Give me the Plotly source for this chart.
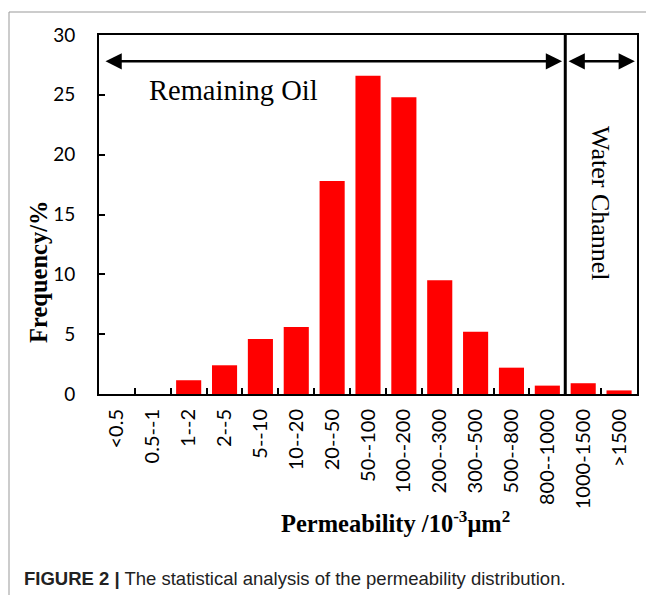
import plotly.graph_objects as go

categories = ["<0.5", "0.5--1", "1--2", "2--5", "5--10", "10--20", "20--50", "50--100",
              "100--200", "200--300", "300--500", "500--800", "800--1000", "1000-1500", ">1500"]
frequency = [0, 0, 1.15, 2.4, 4.6, 5.6, 17.8, 26.6, 24.8, 9.5, 5.2, 2.2, 0.7, 0.9, 0.3]
y_ticks = [0, 5, 10, 15, 20, 25, 30]

# page body has an 8px margin, so the figure is offset by 8px
OFF = 8
W, H = 654 - OFF, 595 - OFF
X0, X1, Y0, Y1 = 99, 637, 35, 394  # plot area in screen pixels
L, T = X0 - OFF, Y0 - OFF
R, B = (W + OFF) - X1 - OFF, (H + OFF) - Y1 - OFF
PW, PH = X1 - X0, Y1 - Y0

def px(x):
    return (x - X0) / PW

def py(y):
    return (Y1 - y) / PH

fig = go.Figure()
fig.add_trace(go.Bar(x=categories, y=frequency, marker=dict(color="#FF0000", line=dict(width=0))))

fig.update_layout(
    width=W, height=H,
    margin=dict(l=L, r=R + OFF, t=T, b=B + OFF, autoexpand=False),
    plot_bgcolor="white", paper_bgcolor="white",
    bargap=0.3, showlegend=False,
)
fig.update_xaxes(
    type="category", range=[-0.5, 14.5],
    showline=True, linecolor="black", linewidth=2, mirror=True,
    ticks="inside", ticklen=6, tickwidth=1.5, tickcolor="black", tickson="boundaries",
    tickangle=-90, tickfont=dict(family="Lato, Open Sans, sans-serif", size=20, color="black"),
    ticklabelstandoff=5, showgrid=False,
)
fig.update_yaxes(
    range=[0, 30], tickvals=y_ticks,
    showline=True, linecolor="black", linewidth=2, mirror=True,
    ticks="inside", ticklen=6, tickwidth=1.5, tickcolor="black",
    tickfont=dict(family="Lato, Open Sans, sans-serif", size=19, color="black"),
    ticklabelstandoff=18, showgrid=False, zeroline=False,
)

# divider between remaining oil and water channel
fig.add_shape(type="line", xref="x", yref="y", x0=12.5, x1=12.5, y0=0, y1=30,
              line=dict(color="black", width=3))

# double arrows
for x0, x1 in [(-0.36, 12.41), (12.55, 14.44)]:
    fig.add_annotation(x=x1, y=27.8, ax=x0, ay=27.8, xref="x", yref="y", axref="x", ayref="y",
                       text="", showarrow=True, arrowside="end+start", arrowhead=2,
                       arrowsize=1.3, arrowwidth=2.5, arrowcolor="black", startarrowhead=2,
                       startarrowsize=1.3)

def label(x, y, text, size, family, angle=0, anchor="center", color="black"):
    fig.add_annotation(x=px(x), y=py(y), xref="paper", yref="paper", text=text,
                       showarrow=False, textangle=angle, xanchor=anchor, yanchor="middle",
                       font=dict(family=family, size=size, color=color))

serif = "Liberation Serif, Times New Roman, serif"
label(233, 90, "Remaining Oil", 28.5, serif)
label(601, 203, "Water Channel", 26, serif, angle=90)
label(395, 522, "<b>Permeability /10<sup>-3</sup>μm<sup>2</sup></b>", 24.5, serif)
label(38, 272, "<b>Frequency/%</b>", 24.5, serif, angle=-90)
label(22, 578, "<b>FIGURE 2 |</b> The statistical analysis of the permeability distribution.",
      18.5, "Liberation Sans, Arial, sans-serif", anchor="left", color="#222")

# figure frame lines (gray)
fig.add_shape(type="line", xref="paper", yref="paper", x0=px(9), x1=px(654), y0=py(12), y1=py(12),
              line=dict(color="#999999", width=1))
fig.add_shape(type="line", xref="paper", yref="paper", x0=px(9), x1=px(9), y0=py(12), y1=py(600),
              line=dict(color="#999999", width=1))

fig.write_html("out.html")
